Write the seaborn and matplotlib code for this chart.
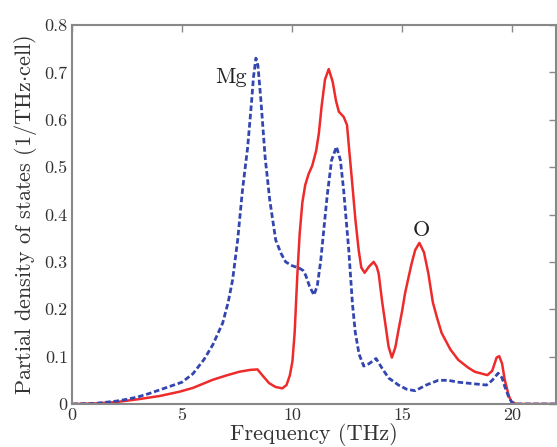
import numpy as np
import pandas as pd
import matplotlib
matplotlib.use("Agg")
import matplotlib.pyplot as plt
import seaborn as sns

# Mg partial DOS (blue dashed)
mg_freq = [0, 1, 2, 2.5, 3, 3.5, 4, 4.5, 5, 5.5, 6.0, 6.4, 6.85, 7.1, 7.3, 7.53,
           7.75, 7.98, 8.13, 8.25, 8.36, 8.45, 8.58, 8.78, 8.99, 9.26, 9.5, 9.71,
           10.0, 10.32, 10.5, 10.62, 10.8, 11.0, 11.15, 11.30, 11.45, 11.6, 11.8,
           12.02, 12.2, 12.35, 12.58, 12.75, 12.88, 13.05, 13.26, 13.5, 13.82,
           14.1, 14.39, 14.84, 15.22, 15.60, 16.1, 16.65, 17.1, 17.56, 18.2,
           18.84, 19.1, 19.37, 19.55, 19.67, 19.85, 20.0, 20.2, 22.0]
mg_dos = [0, 0.001, 0.006, 0.010, 0.015, 0.022, 0.030, 0.038, 0.046, 0.064,
          0.094, 0.125, 0.171, 0.215, 0.262, 0.346, 0.452, 0.540, 0.620, 0.690,
          0.730, 0.715, 0.645, 0.520, 0.430, 0.346, 0.318, 0.300, 0.292, 0.287,
          0.282, 0.272, 0.248, 0.230, 0.250, 0.300, 0.370, 0.440, 0.515, 0.543,
          0.515, 0.450, 0.325, 0.210, 0.150, 0.105, 0.080, 0.085, 0.096, 0.075,
          0.055, 0.040, 0.031, 0.028, 0.040, 0.050, 0.050, 0.046, 0.043, 0.040,
          0.050, 0.065, 0.055, 0.037, 0.015, 0.003, 0, 0]

# O partial DOS (red solid)
o_freq = [0, 1, 2, 3, 4, 4.89, 5.5, 6.39, 7.0, 7.60, 8.1, 8.43, 8.7, 8.96, 9.25,
          9.56, 9.75, 9.9, 10.02, 10.12, 10.24, 10.35, 10.47, 10.6, 10.75, 10.92,
          11.1, 11.22, 11.35, 11.5, 11.67, 11.85, 12.0, 12.13, 12.35, 12.5, 12.62,
          12.73, 12.88, 13.03, 13.15, 13.30, 13.5, 13.71, 13.85, 13.94, 14.1,
          14.24, 14.39, 14.54, 14.7, 14.84, 15.0, 15.14, 15.3, 15.44, 15.6, 15.79,
          16.0, 16.2, 16.4, 16.58, 16.8, 17.2, 17.56, 18.0, 18.31, 18.88, 19.1,
          19.3, 19.42, 19.55, 19.67, 19.85, 19.97, 20.2, 22.0]
o_dos = [0, 0.001, 0.004, 0.010, 0.017, 0.026, 0.034, 0.051, 0.060, 0.068, 0.072,
         0.073, 0.058, 0.044, 0.036, 0.033, 0.040, 0.060, 0.090, 0.150, 0.270,
         0.360, 0.425, 0.462, 0.485, 0.503, 0.535, 0.571, 0.630, 0.685, 0.707,
         0.680, 0.640, 0.617, 0.606, 0.589, 0.526, 0.470, 0.390, 0.325, 0.288,
         0.277, 0.290, 0.300, 0.290, 0.275, 0.215, 0.170, 0.121, 0.098, 0.120,
         0.156, 0.195, 0.234, 0.268, 0.297, 0.325, 0.340, 0.320, 0.275, 0.215,
         0.184, 0.150, 0.115, 0.093, 0.077, 0.068, 0.061, 0.070, 0.098, 0.101,
         0.085, 0.051, 0.018, 0.005, 0, 0]

x_ticks = [0, 5, 10, 15, 20]
y_ticks = [0, 0.1, 0.2, 0.3, 0.4, 0.5, 0.6, 0.7, 0.8]
y_ticklabels = ["0", "0.1", "0.2", "0.3", "0.4", "0.5", "0.6", "0.7", "0.8"]

sns.set_style("white")
plt.rcParams['font.family'] = ['cmr10', 'DejaVu Serif']
plt.rcParams['axes.unicode_minus'] = False
plt.rcParams['mathtext.fontset'] = 'cm'

fig = plt.figure(figsize=(5.57, 4.47), dpi=100)
ax = fig.add_axes([72 / 557, 43 / 447, 484 / 557, 379 / 447])

mg_df = pd.DataFrame({"freq": mg_freq, "dos": mg_dos})
o_df = pd.DataFrame({"freq": o_freq, "dos": o_dos})

sns.lineplot(data=o_df, x="freq", y="dos", ax=ax, color="#ee2b2b", lw=1.8,
             sort=False)
sns.lineplot(data=mg_df, x="freq", y="dos", ax=ax, color="#3346b0", lw=2.0,
             linestyle=(0, (2.0, 1.0)), sort=False)

ax.set_xlim(0, 22)
ax.set_ylim(0, 0.8)
ax.set_xticks(x_ticks)
ax.set_xticklabels([str(t) for t in x_ticks])
ax.set_yticks(y_ticks)
ax.set_yticklabels(y_ticklabels)
ax.tick_params(direction="in", top=True, right=True, length=5, width=1,
               color="#888888", labelsize=13, labelcolor="#333333", pad=3)
for s in ax.spines.values():
    s.set_color("#888888")
    s.set_linewidth(1.5)

ax.set_xlabel("Frequency (THz)", fontsize=16, color="#333333", labelpad=0)
ax.set_ylabel("Partial density of states (1/THz$\\cdot$cell)", fontsize=16,
              color="#333333", labelpad=4)

ax.text(7.24, 0.69, "Mg", fontsize=16, ha="center", va="center", color="#222222")
ax.text(15.9, 0.366, "O", fontsize=16, ha="center", va="center", color="#222222")

fig.savefig("out.png", dpi=100)
